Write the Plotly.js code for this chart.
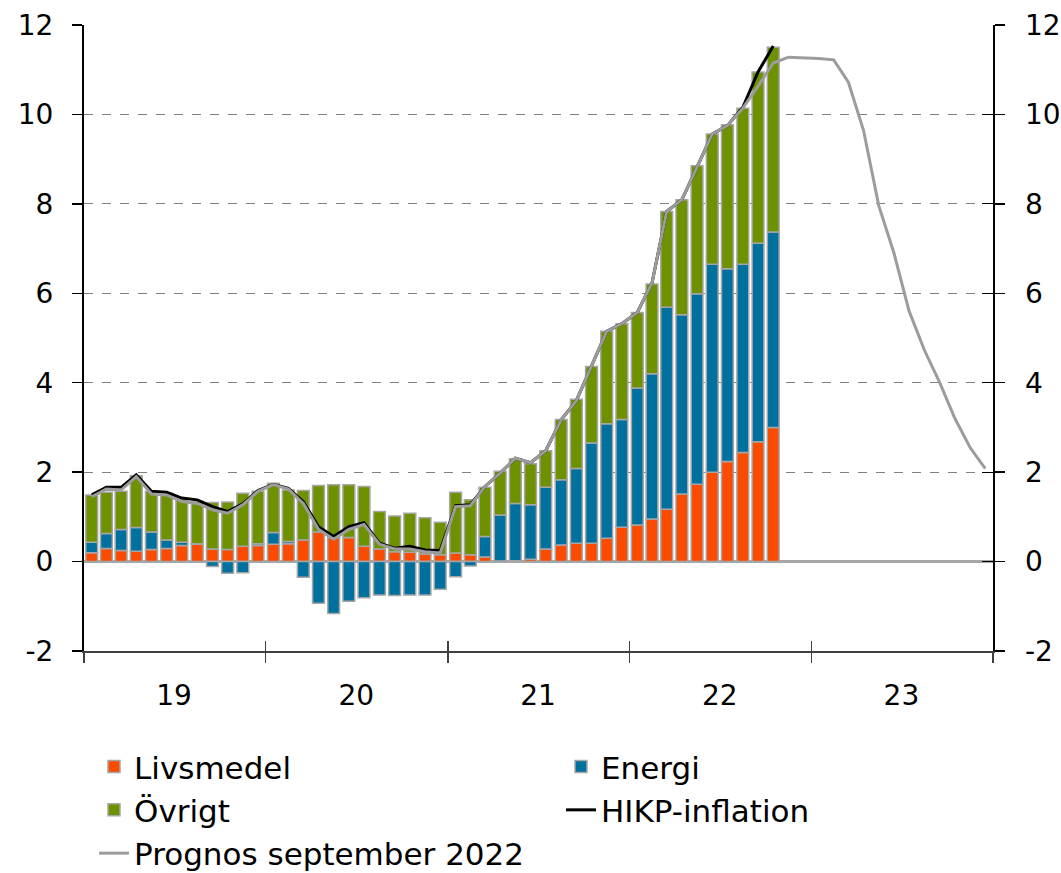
<!DOCTYPE html>
<html><head><meta charset="utf-8">
<script src="https://cdn.plot.ly/plotly-3.0.1.min.js"></script>
<style>html,body{margin:0;padding:0;background:#fff}#chart{width:1061px;height:873px}</style>
</head><body><div id="chart"></div><script>
const months = [
 '2019-01','2019-02','2019-03','2019-04','2019-05','2019-06','2019-07','2019-08','2019-09','2019-10','2019-11','2019-12',
 '2020-01','2020-02','2020-03','2020-04','2020-05','2020-06','2020-07','2020-08','2020-09','2020-10','2020-11','2020-12',
 '2021-01','2021-02','2021-03','2021-04','2021-05','2021-06','2021-07','2021-08','2021-09','2021-10','2021-11','2021-12',
 '2022-01','2022-02','2022-03','2022-04','2022-05','2022-06','2022-07','2022-08','2022-09','2022-10','2022-11','2022-12',
 '2023-01','2023-02','2023-03','2023-04','2023-05','2023-06','2023-07','2023-08','2023-09','2023-10','2023-11','2023-12'
];
const outcomeMonths = months.slice(0, 46);

const livsmedel = [0.20,0.29,0.25,0.23,0.27,0.29,0.36,0.39,0.28,0.27,0.34,0.36,
 0.39,0.40,0.48,0.66,0.54,0.54,0.34,0.28,0.22,0.21,0.17,0.15,
 0.19,0.15,0.10,0.01,0.02,0.05,0.28,0.37,0.41,0.41,0.52,0.77,
 0.82,0.95,1.17,1.51,1.73,2.00,2.24,2.44,2.68,3.00];
const energi = [0.23,0.34,0.47,0.53,0.39,0.19,0.07,0.01,-0.11,-0.26,-0.25,0.04,
 0.26,0.05,-0.35,-0.93,-1.16,-0.89,-0.81,-0.75,-0.76,-0.75,-0.75,-0.62,
 -0.34,-0.10,0.46,1.03,1.28,1.22,1.38,1.46,1.67,2.24,2.56,2.41,
 3.06,3.25,4.52,4.01,4.26,4.65,4.31,4.21,4.44,4.37];
const ovrigt = [1.06,0.92,0.85,1.16,0.91,1.05,0.95,0.95,1.04,1.06,1.19,1.17,
 1.10,1.15,1.11,1.04,1.18,1.18,1.34,0.84,0.80,0.87,0.81,0.73,
 1.36,1.23,1.10,0.98,1.00,0.92,0.82,1.35,1.55,1.71,2.07,2.14,
 1.69,2.01,2.14,2.57,2.86,2.91,3.22,3.49,3.83,4.13];
const hikp = [1.49,1.66,1.66,1.94,1.57,1.55,1.42,1.38,1.23,1.12,1.29,1.59,
 1.73,1.64,1.34,0.78,0.56,0.78,0.87,0.41,0.30,0.34,0.26,0.25,
 1.25,1.27,1.68,1.98,2.31,2.21,2.48,3.17,3.60,4.36,5.15,5.32,
 5.57,6.23,7.83,8.09,8.84,9.56,9.75,10.16,10.95,11.53];
const prognos = [1.45,1.62,1.60,1.90,1.51,1.49,1.34,1.30,1.16,1.08,1.27,1.57,
 1.72,1.62,1.30,0.72,0.50,0.72,0.83,0.39,0.28,0.28,0.22,0.19,
 1.23,1.25,1.68,1.98,2.31,2.21,2.48,3.17,3.60,4.36,5.15,5.32,
 5.57,6.23,7.83,8.09,8.84,9.56,9.75,10.14,10.63,11.15,11.28,11.27,
 11.25,11.22,10.72,9.64,7.96,6.90,5.60,4.72,4.00,3.20,2.55,2.08];

const yearLabels = ['19','20','21','22','23'];
const yearLabelDates = ['2019-07-01','2020-07-01','2021-07-01','2022-07-01','2023-07-01'];
const yearBoundaries = ['2019-01-01','2020-01-01','2021-01-01','2022-01-01','2023-01-01','2024-01-01'];
const yTicks = [-2,0,2,4,6,8,10,12];
const yTickLabels = ['-2','0','2','4','6','8','10','12'];

const FONT = 'DejaVu Sans, Verdana, sans-serif';
const TICK_SIZE = 28;
const barWidth = 0.78 * 30.44 * 86400000;
const outline = {color: '#A6A6A6', width: 1.5};

function barTrace(name, y, color) {
  return {type: 'bar', name: name, x: outcomeMonths, y: y,
    xperiod: 'M1', xperiodalignment: 'middle', width: barWidth,
    marker: {color: color, line: outline}, hoverinfo: 'x+y+name'};
}

const data = [
  barTrace('Livsmedel', livsmedel, '#FA4B00'),
  barTrace('Energi', energi, '#00709E'),
  barTrace('Övrigt', ovrigt, '#6E9100'),
  {type: 'scatter', mode: 'lines', name: 'HIKP-inflation', x: outcomeMonths, y: hikp,
   xaxis: 'x', yaxis: 'y',
   xperiod: 'M1', xperiodalignment: 'middle', line: {color: '#000000', width: 3}},
  {type: 'scatter', mode: 'lines', name: 'Prognos september 2022', x: months, y: prognos,
   xaxis: 'x2', yaxis: 'y2',
   xperiod: 'M1', xperiodalignment: 'middle', line: {color: '#9C9C9C', width: 3}}
];

const xRange = ['2019-01-01', '2024-01-01'];
const layout = {
  width: 1061, height: 873,
  margin: {l: 84, r: 68, t: 25, b: 222, pad: 0, autoexpand: false},
  paper_bgcolor: '#ffffff', plot_bgcolor: '#ffffff',
  font: {family: FONT, size: TICK_SIZE, color: '#000000'},
  barmode: 'relative', bargap: 0,
  showlegend: true,
  legend: {orientation: 'h', xref: 'paper', yref: 'paper',
    x: -0.0011, xanchor: 'left', y: -0.142, yanchor: 'top', indentation: 11,
    entrywidth: 411, entrywidthmode: 'pixels', traceorder: 'normal',
    font: {family: FONT, size: 31, color: '#000000'}, bgcolor: 'rgba(0,0,0,0)'},
  xaxis: {type: 'date', range: xRange, anchor: 'y', automargin: false,
    tickmode: 'array', tickvals: yearLabelDates, ticktext: yearLabels, ticks: '',
    ticklabelstandoff: 18,
    showgrid: false, zeroline: false, showline: true, linecolor: '#404040', linewidth: 2,
    tickfont: {family: FONT, size: TICK_SIZE, color: '#000000'},
    minor: {tickmode: 'array', tickvals: yearBoundaries, ticks: 'outside', ticklen: 10,
      tickcolor: '#404040', tickwidth: 1.5, showgrid: false}},
  xaxis2: {type: 'date', range: xRange, overlaying: 'x', anchor: 'y2', automargin: false,
    tickmode: 'array', tickvals: yearBoundaries, ticks: 'inside', ticklen: 10,
    tickcolor: '#404040', tickwidth: 1.5, showticklabels: false, showgrid: false,
    zeroline: false, showline: false},
  yaxis: {range: [-2, 12], automargin: false, tickmode: 'array', tickvals: yTicks, ticktext: yTickLabels,
    ticks: 'outside', ticklen: 10,
    tickcolor: '#000000', tickwidth: 1.5, ticklabelstandoff: 13,
    showline: true, linecolor: '#000000', linewidth: 2, mirror: 'ticks',
    showgrid: true, gridcolor: '#808080', griddash: 'dash', gridwidth: 1,
    zeroline: true, zerolinecolor: '#A6A6A6', zerolinewidth: 3,
    tickfont: {family: FONT, size: TICK_SIZE, color: '#000000'}},
  yaxis2: {range: [-2, 12], automargin: false, overlaying: 'y', side: 'right', anchor: 'x2',
    tickmode: 'array', tickvals: yTicks, ticktext: yTickLabels, ticks: 'inside', ticklen: 11,
    tickcolor: '#000000', tickwidth: 1, ticklabelstandoff: 31,
    showline: false, showgrid: false, zeroline: false,
    tickfont: {family: FONT, size: TICK_SIZE, color: '#000000'}}
};

Plotly.newPlot('chart', data, layout, {displayModeBar: false, staticPlot: true});
</script></body></html>
